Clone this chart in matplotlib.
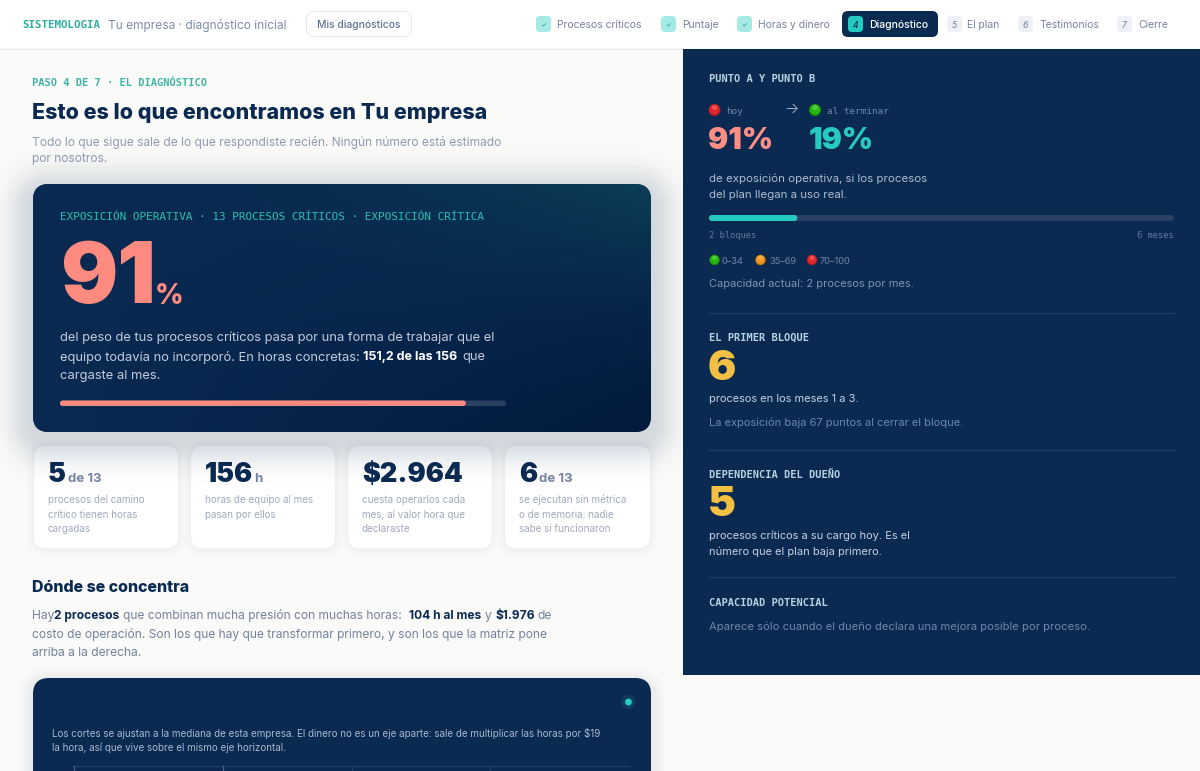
# -*- coding: utf-8 -*-
import numpy as np
import matplotlib
matplotlib.use("Agg")
import matplotlib.pyplot as plt
from matplotlib.patches import FancyBboxPatch, Circle

# ===================== données =====================
exposicion_hoy = 91
exposicion_fin = 19

pasos = ["Procesos críticos", "Puntaje", "Horas y dinero", "Diagnóstico", "El plan", "Testimonios", "Cierre"]
pasos_marca = ["✓", "✓", "✓", "4", "5", "6", "7"]

stat_valores = ["5", "156", "$2.964", "6"]
stat_unidades = ["de 13", "h", "", "de 13"]
stat_textos = [
    ["procesos del camino", "crítico tienen horas", "cargadas"],
    ["horas de equipo al mes", "pasan por ellos"],
    ["cuesta operarlos cada", "mes, al valor hora que", "declaraste"],
    ["se ejecutan sin métrica", "o de memoria: nadie", "sabe si funcionaron"],
]
rangos = ["0–34", "35–69", "70–100"]
# ===================================================

NAVY = "#0B2A52"
TEAL = "#25CBBF"
CORAL = "#FF8A80"
YELLOW = "#F2C043"
PAGE = "#FAFAF8"
MONO = "DejaVu Sans Mono"

fig = plt.figure(figsize=(12, 7.71), dpi=100)
ax = fig.add_axes([0, 0, 1, 1])
ax.set_xlim(0, 1200)
ax.set_ylim(771, 0)
ax.axis("off")


def px(taille):
    # la référence est en px, matplotlib en points
    return taille * 0.72


def txt(x, y, s, taille, couleur, weight=400, family="Inter", ha="left", style="normal", z=6):
    return ax.text(x, y, s, fontsize=px(taille), color=couleur, weight=weight, family=family,
                   ha=ha, va="center_baseline", style=style, zorder=z)


def boite(x0, y0, x1, y1, r, fc, ec="none", lw=0.0, z=2, alpha=None):
    p = FancyBboxPatch((x0 + r, y0 + r), x1 - x0 - 2 * r, y1 - y0 - 2 * r,
                       boxstyle=f"round,pad={r},rounding_size={r}",
                       fc=fc, ec=ec, lw=lw, zorder=z, alpha=alpha)
    ax.add_patch(p)
    return p


def ombre(x0, y0, x1, y1, r, sigma, dy, amax, z):
    # ombre floue calculée sur une grille (distance au rectangle arrondi)
    m = int(sigma * 3)
    xs = np.arange(x0 - m, x1 + m)
    ys = np.arange(y0 + dy - m, y1 + dy + m)
    gx, gy = np.meshgrid(xs + 0.5, ys + 0.5)
    qx = np.abs(gx - (x0 + x1) / 2) - (x1 - x0) / 2 + r
    qy = np.abs(gy - (y0 + y1 + 2 * dy) / 2) - (y1 - y0) / 2 + r
    d = np.hypot(np.maximum(qx, 0), np.maximum(qy, 0)) + np.minimum(np.maximum(qx, qy), 0) - r
    a = amax * np.exp(-(np.maximum(d, 0) / sigma) ** 2)
    rgba = np.zeros(a.shape + (4,))
    rgba[..., :3] = np.array([11, 42, 82]) / 255
    rgba[..., 3] = a
    ax.imshow(rgba, extent=(xs[0], xs[-1] + 1, ys[-1] + 1, ys[0]), aspect="auto", zorder=z, interpolation="bilinear")
    ax.set_xlim(0, 1200)
    ax.set_ylim(771, 0)


def pastille(x, y, r, base, fonce, clair):
    # petit rond façon emoji
    ax.add_patch(Circle((x, y), r, fc=fonce, ec="none", zorder=6))
    ax.add_patch(Circle((x, y - 0.4), r * 0.85, fc=base, ec="none", zorder=6))
    ax.add_patch(Circle((x, y - r * 0.4), r * 0.42, fc=clair, ec="none", zorder=6, alpha=0.45))


def barre(x0, x1, y0, y1, valeur, couleur, fond):
    boite(x0, y0, x1, y1, (y1 - y0) / 2, fond, z=5)
    boite(x0, y0, x0 + (x1 - x0) * valeur / 100, y1, (y1 - y0) / 2, couleur, z=5.5)


# fond de page, en-tête
ax.fill_between([0, 1200], 0, 771, color=PAGE, zorder=0, lw=0)
ax.fill_between([0, 1200], 0, 48, color="white", zorder=1, lw=0)
ax.plot([0, 1200], [48.5, 48.5], color="#E9ECF0", lw=1, zorder=1.5)

txt(22, 24.5, "SISTEMOLOGIA", 10.8, "#2FAE9F", 700, MONO)
txt(108, 24, "Tu empresa · diagnóstico inicial", 11.9, "#7F8CA6")
boite(306.5, 11.5, 411.5, 36.5, 8, "white", "#E6E9EF", 0.8)
txt(359, 24.5, "Mis diagnósticos", 10.3, "#5F6F8E", 500, ha="center")

# navigation
tuiles_x = [536, 661, 737, 848, 947, 1018, 1117]
labels_x = [557, 682, 758, 869, 967, 1039, 1138]
boite(842, 11, 938, 37, 6, NAVY, z=2)
for i, (nom, marque) in enumerate(zip(pasos, pasos_marca)):
    fait = i < 3
    actif = i == 3
    fc = "#A3EBE4" if fait else (TEAL if actif else "#EEF0F6")
    boite(tuiles_x[i], 16, tuiles_x[i] + 15, 32, 4, fc, z=3)
    col_m = "#2E8F86" if fait else (NAVY if actif else "#7F8CA6")
    ax.text(tuiles_x[i] + 7.5, 24.5, marque, fontsize=px(8.5 if not fait else 6.5), color=col_m,
            family=["Inter", "DejaVu Sans"], weight=500, style="italic" if not fait else "normal",
            ha="center", va="center_baseline", zorder=6)
    txt(labels_x[i], 24, nom, 10.4, "white" if actif else "#76849F", 500 if actif else 400)

# colonne gauche
txt(32, 82, "PASO 4 DE 7 · EL DIAGNÓSTICO", 10.4, "#3FB5A5", 700, MONO)
txt(32, 111, "Esto es lo que encontramos en Tu empresa", 21.5, NAVY, 800)
txt(32, 141, "Todo lo que sigue sale de lo que respondiste recién. Ningún número está estimado", 12, "#8E9AB2")
txt(32, 157.5, "por nosotros.", 12, "#8E9AB2")

# petites cartes
cartes_x = [(33, 179), (190, 336), (347, 493), (504, 651)]
unite_x = [68, 254, None, 539]
for i, (x0, x1) in enumerate(cartes_x):
    ombre(x0, 445, x1, 549, 12, 5, 1, 0.035, 1.8)
    boite(x0 + 0.5, 445.5, x1 - 0.5, 548.5, 12, "white", "#EEF0F3", 0.8, z=2)
    txt(x0 + 15, 472, stat_valores[i], 27, NAVY, 900)
    if stat_unidades[i]:
        txt(unite_x[i], 477, stat_unidades[i], 13.2, "#7584A0", 700)
    for j, ligne in enumerate(stat_textos[i]):
        txt(x0 + 15, 499 + j * 14.5, ligne, 9.9, "#A0AABD")

# ombre de la grande carte, par-dessus les petites
ombre(33, 184, 651, 432, 16, 24, 8, 0.16, 3)

# grande carte avec dégradé
carte = boite(33, 184, 651, 432, 16, NAVY, z=4)
nx, ny = 310, 125
gx, gy = np.meshgrid(np.linspace(0, 1, nx), np.linspace(0, 1, ny))
champ = np.clip((1 - gy) * gx, 0, 1) ** 1.8
coin = np.clip(gy * gx, 0, 1) ** 1.5
fond_rgb = np.zeros((ny, nx, 3))
haut = np.array([11, 62, 86]) / 255
milieu = np.array([6, 36, 76]) / 255
bas = np.array([3, 27, 60]) / 255
gauche = np.array([10, 42, 82]) / 255
for c in range(3):
    fond_rgb[..., c] = gauche[c] * (1 - gx) + milieu[c] * gx
    fond_rgb[..., c] = fond_rgb[..., c] * (1 - champ) + haut[c] * champ
    fond_rgb[..., c] = fond_rgb[..., c] * (1 - coin) + bas[c] * coin
im = ax.imshow(fond_rgb, extent=(33, 651, 432, 184), aspect="auto", zorder=4.2, interpolation="bilinear")
im.set_clip_path(carte)
ax.set_xlim(0, 1200)
ax.set_ylim(771, 0)

txt(60, 216, "EXPOSICIÓN OPERATIVA · 13 PROCESOS CRÍTICOS · EXPOSICIÓN CRÍTICA", 11.05, "#2BBFB3", 400, MONO)
txt(60, 272.5, f"{exposicion_hoy}", 85, CORAL, 900)
txt(155, 293, "%", 28, CORAL, 800)
txt(60, 336, "del peso de tus procesos críticos pasa por una forma de trabajar que el", 12.95, "#C2CBDB")
txt(60, 355.5, "equipo todavía no incorporó. En horas concretas:", 12.95, "#C2CBDB")
txt(363, 355.5, "151,2 de las 156", 12.5, "white", 700)
txt(462, 355.5, "que", 12.95, "#C2CBDB")
txt(60, 375, "cargaste al mes.", 12.95, "#C2CBDB")
barre(60, 506, 400.5, 406, exposicion_hoy, CORAL, "#2A4163")

# où ça se concentre
txt(32, 585.5, "Dónde se concentra", 15.9, NAVY, 800)
GRIS = "#74829E"
txt(32, 614.5, "Hay", 12.05, GRIS)
txt(54, 614.5, "2 procesos", 12, NAVY, 700)
txt(123, 614.5, "que combinan mucha presión con muchas horas:", 12.05, GRIS)
txt(409, 614.5, "104 h al mes", 12, NAVY, 700)
txt(485, 614.5, "y", 12.05, GRIS)
txt(495, 614.5, "$1.976", 12, NAVY, 700)
txt(537, 614.5, "de", 12.05, GRIS)
txt(32, 633, "costo de operación. Son los que hay que transformar primero, y son los que la matriz pone", 12.05, GRIS)
txt(32, 651, "arriba a la derecha.", 12.05, GRIS)

# carte du bas, coupée par le bord
ombre(33, 678, 651, 800, 16, 10, 3, 0.07, 1.8)
boite(33, 678, 651, 800, 16, NAVY, z=2)
ax.add_patch(Circle((628.5, 702), 7, fc=TEAL, alpha=0.12, ec="none", zorder=3))
ax.add_patch(Circle((628.5, 702), 3.4, fc=TEAL, ec="none", zorder=3.5))
txt(52, 732.5, "Los cortes se ajustan a la mediana de esta empresa. El dinero no es un eje aparte: sale de multiplicar las horas por $19", 9.8, "#A9B7CF")
txt(52, 746.5, "la hora, así que vive sobre el mismo eje horizontal.", 9.8, "#A9B7CF")
ax.plot([73, 630], [766, 766], color="#234268", lw=0.8, zorder=3)
ax.plot([73.5, 73.5], [766, 771], color="#4A648A", lw=0.8, zorder=3)
ax.plot([222.5, 222.5], [766, 771], color="#4A648A", lw=0.8, zorder=3)
ax.plot([351.5, 351.5], [766, 771], color="#234268", lw=0.8, zorder=3)
ax.plot([489.5, 489.5], [766, 771], color="#234268", lw=0.8, zorder=3)

# panneau droit
ax.fill_between([683, 1200], 49, 675, color=NAVY, zorder=3.5, lw=0)
ETIQ = "#B4D3E0"
txt(709, 78, "PUNTO A Y PUNTO B", 10.4, ETIQ, 700, MONO)
pastille(714.5, 110, 6, "#E0272B", "#A81C22", "#FF8A80")
txt(726, 110.5, "hoy", 9.4, "#7286A6", 400, MONO)
txt(791, 107, "→", 15, "#AEBBD1", ha="center", weight=300)
pastille(815, 110, 6, "#27B50E", "#178A06", "#8CEB70")
txt(827, 110.5, "al terminar", 9.4, "#7286A6", 400, MONO)
txt(708, 138, f"{exposicion_hoy}%", 30, "#FF8F85", 900)
txt(809, 138, f"{exposicion_fin}%", 30, TEAL, 900)
txt(709, 178, "de exposición operativa, si los procesos", 11.5, "#AEBBD1")
txt(709, 194, "del plan llegan a uso real.", 11.5, "#AEBBD1")
barre(709, 1174, 215, 221, exposicion_fin, TEAL, "#2A4163")
txt(709, 234, "2 bloques", 8.8, "#62799B", 400, MONO)
txt(1174, 234, "6 meses", 8.8, "#62799B", 400, MONO, ha="right")
pastille(714.5, 260, 5.2, "#27B50E", "#178A06", "#8CEB70")
pastille(760.5, 260, 5.2, "#F0961E", "#C87010", "#FFD080")
pastille(812, 260, 5.2, "#E0272B", "#A81C22", "#FF8A80")
for x, rango in zip([722, 769, 820], rangos):
    txt(x, 260, rango, 9.2, "#6F84A5")
txt(709, 283, "Capacidad actual: 2 procesos por mes.", 11.1, "#7F92B0")

for y in [312.5, 449.5, 577]:
    ax.plot([709, 1174], [y, y], color="#1F3D66", lw=1, zorder=5)

txt(709, 337, "EL PRIMER BLOQUE", 10.4, ETIQ, 700, MONO)
txt(708, 364.5, "6", 42, YELLOW, 900)
txt(709, 398, "procesos en los meses 1 a 3.", 11.05, "#C5D0E0")
txt(709, 422, "La exposición baja 67 puntos al cerrar el bloque.", 11.1, "#6F86A8")

txt(709, 474, "DEPENDENCIA DEL DUEÑO", 10.4, ETIQ, 700, MONO)
txt(708, 501.5, "5", 42, YELLOW, 900)
txt(709, 535, "procesos críticos a su cargo hoy. Es el", 11.05, "#C5D0E0")
txt(709, 550.5, "número que el plan baja primero.", 11.05, "#C5D0E0")

txt(709, 602, "CAPACIDAD POTENCIAL", 10.4, ETIQ, 700, MONO)
txt(709, 626, "Aparece sólo cuando el dueño declara una mejora posible por proceso.", 11.2, "#6F86A8")

fig.savefig("out.png", dpi=100)
